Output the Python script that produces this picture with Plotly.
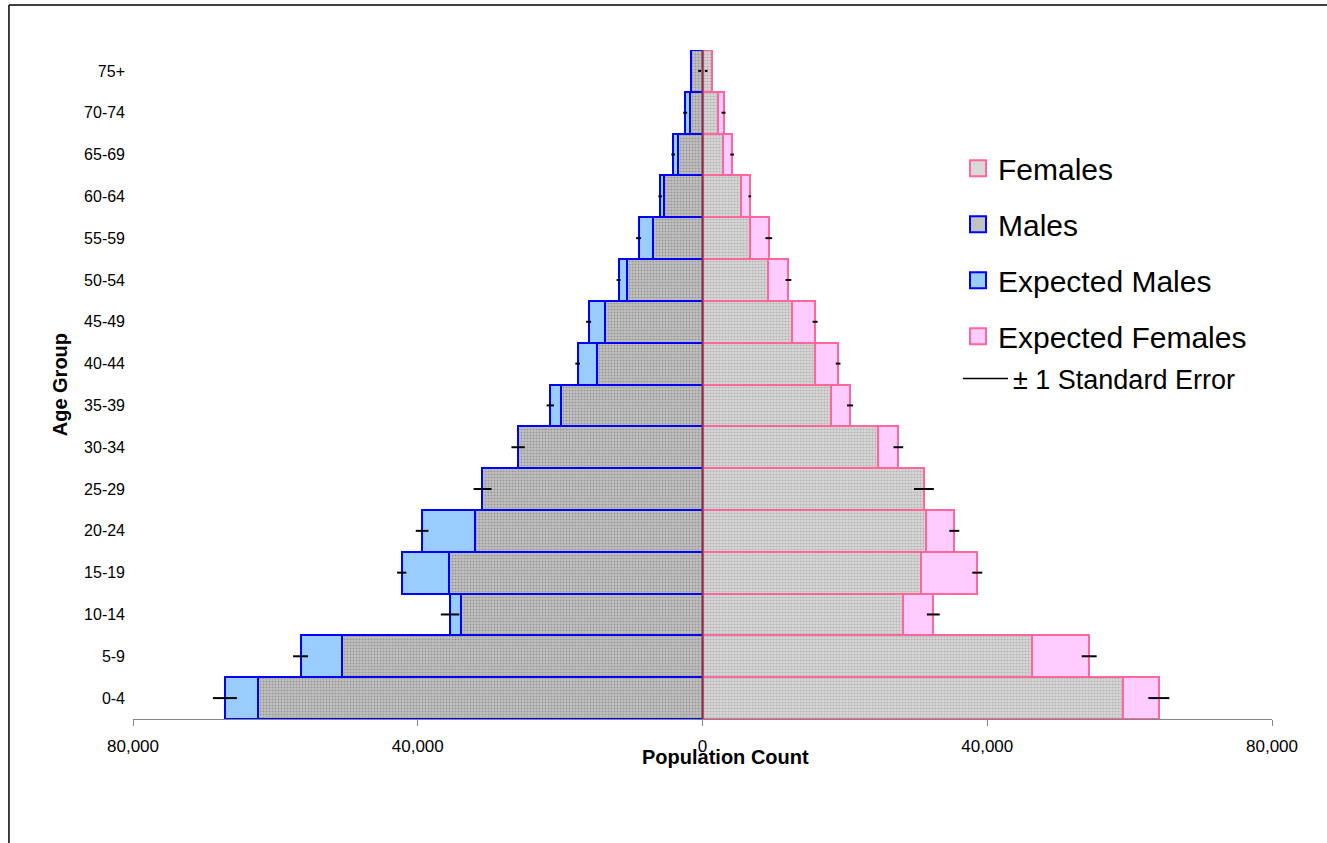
import plotly.graph_objects as go

# Age groups, youngest at the bottom of the pyramid
ages = ["0-4", "5-9", "10-14", "15-19", "20-24", "25-29", "30-34", "35-39",
        "40-44", "45-49", "50-54", "55-59", "60-64", "65-69", "70-74", "75+"]

# Observed counts
males = [62460, 50620, 33960, 35600, 32000, 30980, 25920, 19930,
         14830, 13750, 10670, 6920, 5380, 3510, 1820, 1680]
females = [59090, 46320, 28210, 30740, 31440, 31160, 24700, 18010,
           15820, 12540, 9260, 6690, 5430, 2900, 2200, 1310]

# Expected counts
expected_males = [67090, 56460, 35460, 42250, 39390, 30900, 25900, 21380,
                  17540, 16000, 11790, 8980, 5940, 4120, 2430, 400]
expected_females = [64100, 54320, 32420, 38600, 35370, 31100, 27510, 20730,
                    19050, 15820, 12070, 9310, 6640, 4160, 2950, 520]

# Standard errors of the expected counts
se_males = [1680, 1050, 1300, 650, 890, 1260, 935, 515,
            330, 350, 280, 350, 260, 260, 280, 210]
se_females = [1470, 1050, 900, 700, 700, 1400, 680, 420,
              330, 350, 400, 470, 190, 260, 280, 190]

tick_vals = [-80000, -40000, 0, 40000, 80000]
tick_text = ["80,000", "40,000", "0", "40,000", "80,000"]

FONT = "Arial, Liberation Sans, sans-serif"
BLUE = "#0000ff"
PINK = "#ff6699"
LIGHT_BLUE = "#99ccff"
LIGHT_PINK = "#ffccff"
MALE_GRAY = "#c2c2c2"
FEMALE_GRAY = "#d9d9d9"

neg = lambda vals: [-v for v in vals]

fig = go.Figure()

# Expected bars sit behind the observed bars
fig.add_trace(go.Bar(
    y=ages, x=neg(expected_males), orientation="h", name="Expected Males",
    marker=dict(color=LIGHT_BLUE, line=dict(color=BLUE, width=2)),
    showlegend=False))
fig.add_trace(go.Bar(
    y=ages, x=expected_females, orientation="h", name="Expected Females",
    marker=dict(color=LIGHT_PINK, line=dict(color=PINK, width=2)),
    showlegend=False))

# Observed bars with a fine dotted fill
fig.add_trace(go.Bar(
    y=ages, x=neg(males), orientation="h", name="Males",
    marker=dict(color=MALE_GRAY, line=dict(color=BLUE, width=2),
                pattern=dict(shape=".", bgcolor=MALE_GRAY, fgcolor="#989898",
                             size=3, solidity=0.4, fillmode="replace")),
    showlegend=False))
fig.add_trace(go.Bar(
    y=ages, x=females, orientation="h", name="Females",
    marker=dict(color=FEMALE_GRAY, line=dict(color=PINK, width=2),
                pattern=dict(shape=".", bgcolor=FEMALE_GRAY, fgcolor="#b4b4b4",
                             size=3, solidity=0.4, fillmode="replace")),
    showlegend=False))

# ±1 SE around the expected counts, drawn above all bars
for xs, se in ((neg(expected_males), se_males), (expected_females, se_females)):
    fig.add_trace(go.Scatter(
        y=ages, x=xs, mode="markers",
        marker=dict(size=1, color="rgba(0,0,0,0)"),
        error_x=dict(type="data", array=se, symmetric=True, width=0,
                     thickness=2, color="black"),
        showlegend=False, hoverinfo="skip"))

# Legend entries
legend_items = [
    ("Females", FEMALE_GRAY, PINK),
    ("Males", MALE_GRAY, BLUE),
    ("Expected Males", LIGHT_BLUE, BLUE),
    ("Expected Females", LIGHT_PINK, PINK),
]
for name, fill, edge in legend_items:
    fig.add_trace(go.Scatter(
        x=[None], y=[None], mode="markers", name=name, legendgroup=name,
        marker=dict(symbol="square", size=16, color=fill,
                    line=dict(color=edge, width=2))))
fig.add_trace(go.Scatter(
    x=[None], y=[None], mode="lines", name="± 1 Standard Error",
    line=dict(color="black", width=1.5), legend="legend2"))

fig.update_layout(
    width=1327, height=843,
    margin=dict(l=133, r=55, t=50, b=124),
    barmode="overlay", bargap=0,
    plot_bgcolor="white", paper_bgcolor="white",
    font=dict(family=FONT, color="black"),
    legend=dict(x=0.7243, y=0.862, xanchor="left", yanchor="top",
                font=dict(size=30, family=FONT), traceorder="grouped",
                tracegroupgap=14, bgcolor="rgba(0,0,0,0)", itemsizing="trace"),
    legend2=dict(x=0.7243, y=0.545, xanchor="left", yanchor="top",
                 font=dict(size=27, family=FONT), itemwidth=45,
                 bgcolor="rgba(0,0,0,0)"),
    xaxis=dict(range=[-80000, 80000], tickvals=tick_vals, ticktext=tick_text,
               showgrid=False, zeroline=False, showline=True,
               linecolor="#868686", linewidth=1, ticks="outside", ticklen=6,
               tickcolor="#868686", tickfont=dict(size=17, family=FONT),
               ticklabelstandoff=6, fixedrange=True),
    yaxis=dict(categoryorder="array", categoryarray=ages,
               range=[-0.5, len(ages) - 0.5], showgrid=False,
               zeroline=False, showline=False, ticks="",
               tickfont=dict(size=16, family=FONT), ticklabelstandoff=7,
               fixedrange=True),
    shapes=[
        # vertical axis at zero
        dict(type="line", xref="x", yref="paper", x0=0, x1=0, y0=0, y1=1,
             line=dict(color="#80304f", width=2), layer="above"),
        # outer chart frame
        dict(type="line", xref="paper", yref="paper", x0=-0.1089, x1=-0.1089,
             y0=1.0673, y1=-0.25, line=dict(color="black", width=1.5)),
        dict(type="line", xref="paper", yref="paper", x0=-0.1089, x1=1.1,
             y0=1.0673, y1=1.0673, line=dict(color="black", width=1.5)),
    ],
    annotations=[
        dict(text="<b>Population Count</b>", xref="paper", yref="paper",
             x=0.52, y=-0.0568, xanchor="center", yanchor="middle",
             showarrow=False, font=dict(size=20, family=FONT)),
        dict(text="<b>Age Group</b>", xref="paper", yref="paper",
             x=-0.064, y=0.499, xanchor="center", yanchor="middle",
             textangle=-90, showarrow=False, font=dict(size=20, family=FONT)),
    ],
)

fig.write_html("out.html")
